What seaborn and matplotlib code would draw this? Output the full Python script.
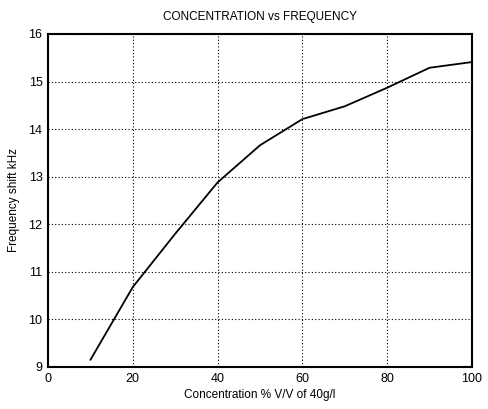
import matplotlib
matplotlib.use("Agg")
import matplotlib.pyplot as plt
import seaborn as sns
import pandas as pd

concentration = [10, 20, 30, 40, 50, 60, 70, 80, 90, 100]
freq_shift = [9.15, 10.68, 11.8, 12.88, 13.66, 14.21, 14.48, 14.87, 15.29, 15.41]

df = pd.DataFrame({"conc": concentration, "shift": freq_shift})

sns.set_theme(style="white", rc={"text.color": "black", "axes.labelcolor": "black",
                                 "xtick.color": "black", "ytick.color": "black"})
plt.rcParams["font.family"] = ["Liberation Sans", "DejaVu Sans"]

fig = plt.figure(figsize=(4.88, 4.09), dpi=100)
ax = fig.add_axes([0.0984, 0.1027, 0.8686, 0.8142])
sns.lineplot(data=df, x="conc", y="shift", ax=ax, color="black", linewidth=1.3)

ax.set_xlim(0, 100)
ax.set_ylim(9, 16)
ax.set_xticks([0, 20, 40, 60, 80, 100])
ax.set_yticks(range(9, 17))
ax.grid(True, color="black", linestyle=(0, (1, 2)), linewidth=0.8)
for s in ax.spines.values():
    s.set_color("black")
    s.set_linewidth(1.5)
ax.tick_params(direction="in", length=3, labelsize=9, colors="black", pad=4)
ax.set_xlabel("Concentration % V/V of 40g/l", fontsize=8.5, labelpad=3)
ax.set_ylabel("Frequency shift kHz", fontsize=8.5, labelpad=6)
ax.set_title("CONCENTRATION vs FREQUENCY", fontsize=8.5, pad=10, color="black")

fig.savefig("out.png", dpi=100)
